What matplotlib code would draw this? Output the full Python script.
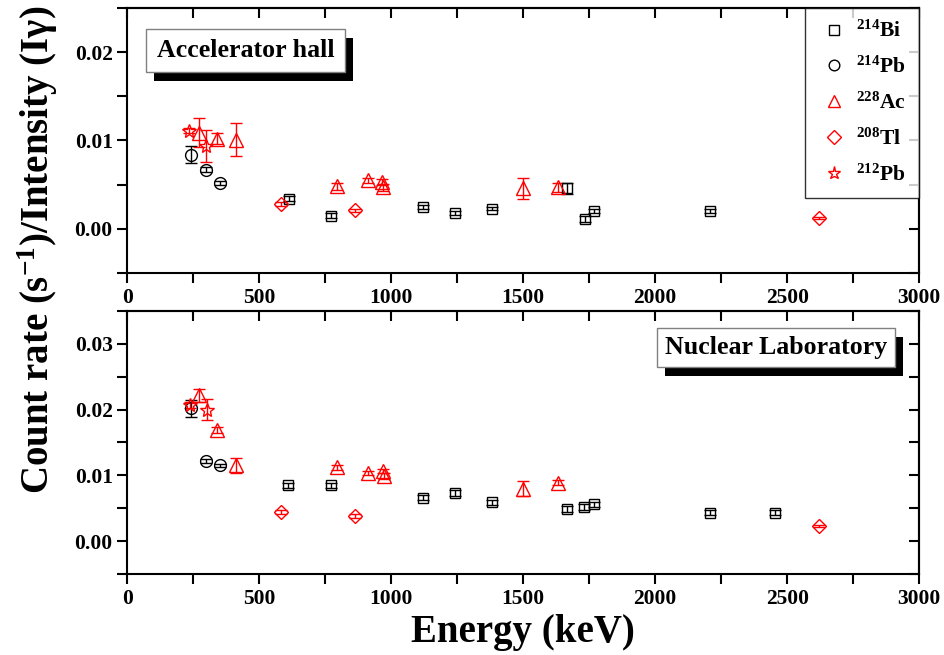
import matplotlib
matplotlib.use('Agg')
import matplotlib.pyplot as plt
from matplotlib.lines import Line2D
from matplotlib.patches import Rectangle
from matplotlib.ticker import MultipleLocator, NullFormatter

plt.rcParams['font.family'] = ['Liberation Serif', 'DejaVu Serif']
plt.rcParams['font.weight'] = 'bold'
plt.rcParams['mathtext.fontset'] = 'custom'
plt.rcParams['mathtext.rm'] = 'Liberation Serif:bold'
plt.rcParams['mathtext.it'] = 'Liberation Serif:bold'
plt.rcParams['mathtext.bf'] = 'Liberation Serif:bold'

# ---- Accelerator hall (top) ----
hall_bi214_e = [612, 770, 1121, 1241, 1380, 1667, 1734, 1768, 2208]
hall_bi214_y = [0.0034, 0.0015, 0.0025, 0.0018, 0.0023, 0.0046, 0.0011, 0.0020, 0.0020]
hall_bi214_err = [0.0003, 0.0003, 0.0002, 0.0002, 0.0002, 0.0006, 0.0003, 0.0002, 0.0002]
hall_pb214_e = [241, 298, 352]
hall_pb214_y = [0.0084, 0.0067, 0.0052]
hall_pb214_err = [0.0010, 0.0003, 0.0002]
hall_ac228_e = [272, 338, 410, 795, 913, 965, 970, 1500, 1630]
hall_ac228_y = [0.0109, 0.0102, 0.0101, 0.0048, 0.0055, 0.0053, 0.0047, 0.0046, 0.0047]
hall_ac228_err = [0.0016, 0.0006, 0.0019, 0.0004, 0.0003, 0.0003, 0.0004, 0.0012, 0.0005]
hall_tl208_e = [583, 862, 2620]
hall_tl208_y = [0.0028, 0.0021, 0.0012]
hall_tl208_err = [0.0002, 0.0002, 0.0001]
hall_pb212_e = [235, 298]
hall_pb212_y = [0.0111, 0.0094]
hall_pb212_err = [0.0003, 0.0018]

# ---- Nuclear Laboratory (bottom) ----
lab_bi214_e = [610, 770, 1121, 1241, 1380, 1665, 1731, 1768, 2208, 2453]
lab_bi214_y = [0.0085, 0.0085, 0.0066, 0.0073, 0.0059, 0.0049, 0.0052, 0.0056, 0.0043, 0.0043]
lab_bi214_err = [0.0004, 0.0004, 0.0004, 0.0004, 0.0004, 0.0004, 0.0004, 0.0004, 0.0004, 0.0004]
lab_pb214_e = [241, 297, 352]
lab_pb214_y = [0.0202, 0.0122, 0.0115]
lab_pb214_err = [0.0013, 0.0003, 0.0003]
lab_ac228_e = [272, 338, 410, 795, 911, 967, 973, 1500, 1633]
lab_ac228_y = [0.0222, 0.0169, 0.0115, 0.0112, 0.0104, 0.0106, 0.0099, 0.0080, 0.0089]
lab_ac228_err = [0.0010, 0.0004, 0.0012, 0.0004, 0.0003, 0.0003, 0.0004, 0.0011, 0.0004]
lab_tl208_e = [583, 862, 2620]
lab_tl208_y = [0.0044, 0.0038, 0.0023]
lab_tl208_err = [0.0003, 0.0003, 0.0002]
lab_pb212_e = [238, 301]
lab_pb212_y = [0.0207, 0.0200]
lab_pb212_err = [0.0004, 0.0016]

series_labels = [r'$^{214}$Bi', r'$^{214}$Pb', r'$^{228}$Ac', r'$^{208}$Tl', r'$^{212}$Pb']
series_styles = [
    dict(marker='s', ms=7.5, color='black'),
    dict(marker='o', ms=8.5, color='black'),
    dict(marker='^', ms=10, color='red'),
    dict(marker='D', ms=7.5, color='red'),
    dict(marker='*', ms=10.5, color='red'),
]


def draw_panel(ax, data, ylim, ymajor):
    for (e, y, err), st in zip(data, series_styles):
        ax.errorbar(e, y, yerr=err, fmt=st['marker'], ms=st['ms'], mfc='none',
                    mec=st['color'], mew=1.0, ecolor=st['color'], elinewidth=1.0,
                    capsize=4, capthick=1.0, zorder=3)
    ax.set_xlim(0, 3000)
    ax.set_ylim(*ylim)
    ax.xaxis.set_major_locator(MultipleLocator(500))
    ax.xaxis.set_minor_locator(MultipleLocator(250))
    ax.yaxis.set_major_locator(MultipleLocator(ymajor))
    ax.yaxis.set_minor_locator(MultipleLocator(ymajor / 2))
    ax.yaxis.set_major_formatter(plt.FormatStrFormatter('%.2f'))
    ax.tick_params(axis='both', which='both', direction='out', width=1.5, length=7,
                   labelsize=15.5, top=False, right=False)
    for sp in ax.spines.values():
        sp.set_linewidth(1.5)

    # mirrored axes: ticks pointing inward, no labels
    top = ax.secondary_xaxis('top')
    top.xaxis.set_major_locator(MultipleLocator(500))
    top.xaxis.set_minor_locator(MultipleLocator(250))
    top.xaxis.set_major_formatter(NullFormatter())
    top.tick_params(which='both', direction='in', width=1.5, length=7)
    top.spines['top'].set_linewidth(1.5)
    right = ax.secondary_yaxis('right')
    right.yaxis.set_major_locator(MultipleLocator(ymajor))
    right.yaxis.set_minor_locator(MultipleLocator(ymajor / 2))
    right.yaxis.set_major_formatter(NullFormatter())
    right.tick_params(which='both', direction='in', width=1.5, length=7)
    right.spines['right'].set_linewidth(1.5)


fig = plt.figure(figsize=(9.45, 6.55), dpi=100)
ax1 = fig.add_axes([0.1347, 0.5832, 0.838, 0.4046])
ax2 = fig.add_axes([0.1347, 0.1237, 0.838, 0.4015])

hall = [(hall_bi214_e, hall_bi214_y, hall_bi214_err),
        (hall_pb214_e, hall_pb214_y, hall_pb214_err),
        (hall_ac228_e, hall_ac228_y, hall_ac228_err),
        (hall_tl208_e, hall_tl208_y, hall_tl208_err),
        (hall_pb212_e, hall_pb212_y, hall_pb212_err)]
lab = [(lab_bi214_e, lab_bi214_y, lab_bi214_err),
       (lab_pb214_e, lab_pb214_y, lab_pb214_err),
       (lab_ac228_e, lab_ac228_y, lab_ac228_err),
       (lab_tl208_e, lab_tl208_y, lab_tl208_err),
       (lab_pb212_e, lab_pb212_y, lab_pb212_err)]

draw_panel(ax1, hall, (-0.005, 0.025), 0.01)
draw_panel(ax2, lab, (-0.005, 0.035), 0.01)

# label boxes; shadows added after a draw, once the box size is known
boxes = [
    ax1.text(0.1492, 0.8396, 'Accelerator hall', transform=ax1.transAxes,
             ha='center', va='center', fontsize=18.6, zorder=6,
             bbox=dict(boxstyle='square,pad=0.4', fc='white', ec='gray', lw=1)),
    ax2.text(0.8187, 0.8614, 'Nuclear Laboratory', transform=ax2.transAxes,
             ha='center', va='center', fontsize=18.6, zorder=6,
             bbox=dict(boxstyle='square,pad=0.3', fc='white', ec='gray', lw=1)),
]

handles = [Line2D([], [], ls='none', marker=st['marker'], ms=st['ms'] * 0.9,
                  mfc='none', mec=st['color'], mew=1.0) for st in series_styles]
leg = ax1.legend(handles, series_labels, loc='upper right', fontsize=15.5,
                 frameon=True, fancybox=False, borderaxespad=0, labelspacing=0.68,
                 handletextpad=0.3, handlelength=1.5, borderpad=0.6)
leg.get_frame().set_edgecolor('black')
leg.get_frame().set_linewidth(1.0)
leg.set_zorder(7)

fig.text(0.040, 0.618, 'Count rate (s$^{-1}$)/Intensity (Iγ)', rotation=90,
         ha='center', va='center', fontsize=28)
fig.text(0.553, 0.035, 'Energy (keV)', ha='center', va='center', fontsize=28)

fig.canvas.draw()
for t in boxes:
    bb = t.get_bbox_patch().get_window_extent()
    shadow = Rectangle((bb.x0 + 8, bb.y0 - 9), bb.width, bb.height,
                       transform=None, fc='black', ec='none', zorder=5)
    t.axes.add_artist(shadow)

fig.savefig('out.png', dpi=100)
